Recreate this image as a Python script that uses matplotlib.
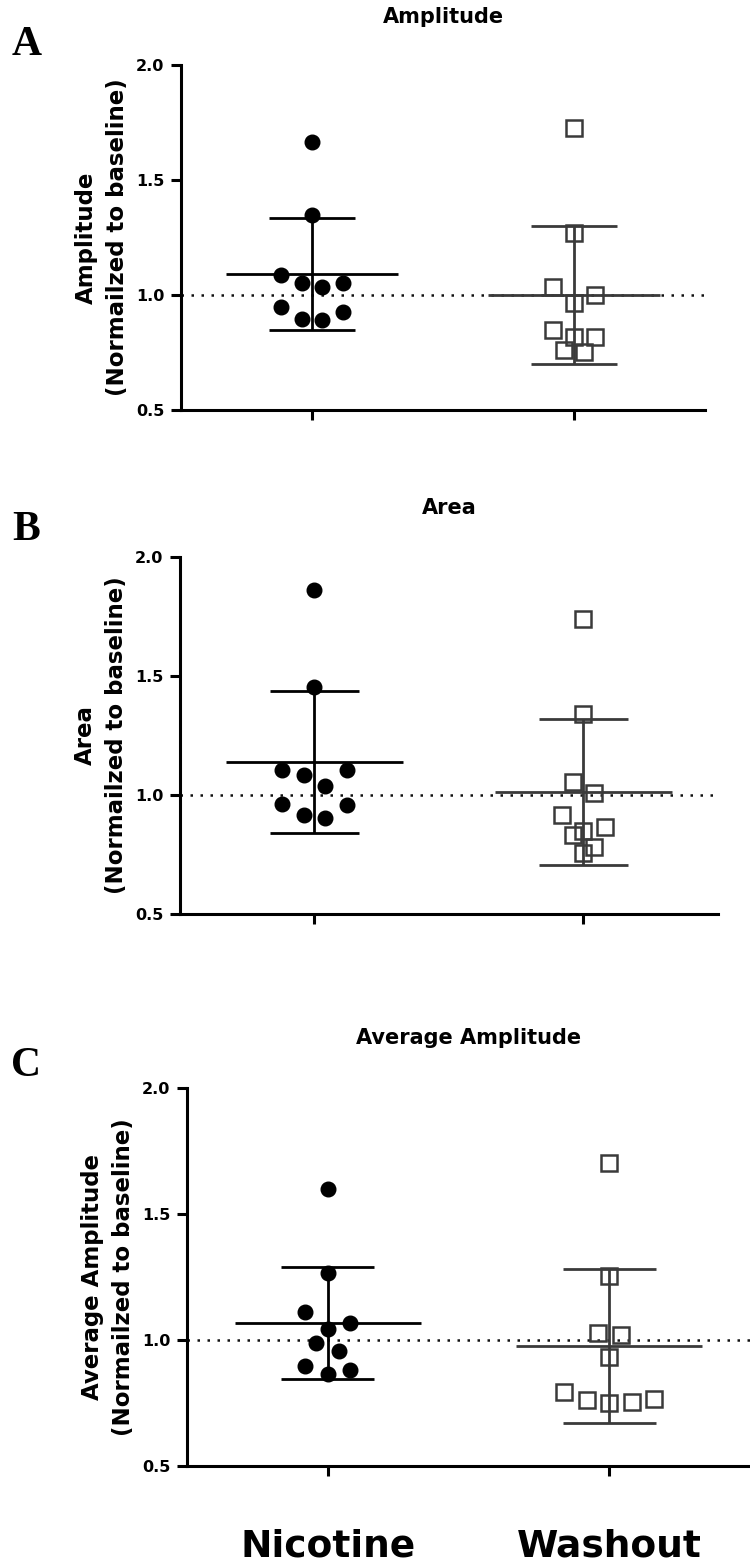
import matplotlib
matplotlib.use('Agg')
import matplotlib.pyplot as plt
import numpy as np

# values (normalized to baseline), 10 cells per group
nic_amp = [1.667, 1.348, 1.087, 1.051, 1.036, 1.054, 0.949, 0.925, 0.891, 0.894]
wash_amp = [1.725, 1.268, 1.033, 1.000, 0.964, 0.848, 0.816, 0.819, 0.754, 0.761]

nic_area = [1.860, 1.455, 1.105, 1.084, 1.038, 1.105, 0.958, 0.961, 0.902, 0.916]
wash_area = [1.741, 1.340, 1.056, 1.007, 0.916, 0.864, 0.832, 0.850, 0.783, 0.758]

nic_avg = [1.597, 1.264, 1.111, 1.069, 1.042, 0.989, 0.956, 0.896, 0.882, 0.864]
wash_avg = [1.701, 1.253, 1.021, 1.028, 0.931, 0.792, 0.760, 0.750, 0.753, 0.764]

groups = ['Nicotine', 'Washout']
titles = ['Amplitude', 'Area', 'Average Amplitude']
letters = ['A', 'B', 'C']
yticks = [0.5, 1.0, 1.5, 2.0]
ytick_labels = ['0.5', '1.0', '1.5', '2.0']

NIC_COLOR = 'black'
WASH_COLOR = '#3a3a3a'


def swarm(vals, center, step=0.08, tol=0.07):
    # graphpad style scatter: points close in value share a row,
    # spread symmetric around the group center, outer slots first
    order = sorted(range(len(vals)), key=lambda i: -vals[i])
    xs = [center] * len(vals)
    rows = []
    cur = []
    for i in order:
        if cur and vals[cur[0]] - vals[i] > tol:
            rows.append(cur)
            cur = []
        cur.append(i)
    rows.append(cur)
    for row in rows:
        n = len(row)
        slots = [k - (n - 1) / 2 for k in range(n)]
        seq = []
        lo, hi = 0, n - 1
        while lo <= hi:
            seq.append(slots[lo])
            if hi != lo:
                seq.append(slots[hi])
            lo += 1
            hi -= 1
        for i, s in zip(row, seq):
            xs[i] = center + s * step
    return xs


def draw_group(ax, vals, pos, color, marker):
    vals = np.array(vals)
    m = vals.mean()
    sd = vals.std(ddof=1)
    # mean +/- SD
    ax.vlines(pos, m - sd, m + sd, color=color, lw=2.0, zorder=3)
    ax.hlines([m - sd, m + sd], pos - 0.165, pos + 0.165, color=color, lw=2.0, zorder=3)
    ax.hlines(m, pos - 0.33, pos + 0.33, color=color, lw=2.0, zorder=3)
    xs = swarm(list(vals), pos)
    if marker == 'o':
        ax.plot(xs, vals, 'o', ms=10.5, color=color, mec=color, zorder=4, clip_on=False)
    else:
        ax.plot(xs, vals, 's', ms=11, mfc='none', mec=color, mew=1.8, zorder=4, clip_on=False)


fig = plt.figure(figsize=(7.5, 15.66), dpi=100)

# axes boxes in figure fraction
rects = [[0.2413, 0.7382, 0.6987, 0.2203],
         [0.2400, 0.4163, 0.7173, 0.2280],
         [0.2493, 0.0639, 0.7507, 0.2414]]
title_pos = [(0.5907, 0.9891), (0.5987, 0.6756), (0.6247, 0.3372)]
letter_pos = [(0.035, 0.9713), (0.035, 0.6616), (0.035, 0.3193)]

data = [(nic_amp, wash_amp), (nic_area, wash_area), (nic_avg, wash_avg)]

for k in range(3):
    ax = fig.add_axes(rects[k])
    nic, wash = data[k]

    # dotted baseline at 1.0
    ax.axhline(1.0, color='#111111', lw=1.8, ls=(0, (1, 3)), zorder=1)

    draw_group(ax, nic, 1, NIC_COLOR, 'o')
    draw_group(ax, wash, 2, WASH_COLOR, 's')

    ax.set_xlim(0.5, 2.5)
    ax.set_ylim(0.5, 2.0)
    ax.set_yticks(yticks)
    ax.set_yticklabels(ytick_labels, fontsize=11.5, fontweight='bold')
    ax.set_xticks([1, 2])
    if k == 2:
        ax.set_xticklabels(groups, fontsize=27, fontweight='bold')
        ax.tick_params(axis='x', pad=38)
    else:
        ax.set_xticklabels(['', ''])

    ax.spines['top'].set_visible(False)
    ax.spines['right'].set_visible(False)
    ax.spines['left'].set_linewidth(2.2)
    ax.spines['bottom'].set_linewidth(2.2)
    ax.tick_params(axis='both', width=2.2, length=7, direction='out')
    ax.tick_params(axis='y', pad=5)

    ax.set_ylabel(titles[k] + '\n(Normailzed to baseline)', fontsize=16.5,
                  fontweight='bold', labelpad=5, linespacing=1.45)

    fig.text(title_pos[k][0], title_pos[k][1], titles[k], ha='center', va='center',
             fontsize=15, fontweight='bold')
    fig.text(letter_pos[k][0], letter_pos[k][1], letters[k], ha='center', va='center',
             fontsize=30, fontweight='bold', family='Liberation Serif')

plt.savefig('out.png', dpi=100)
